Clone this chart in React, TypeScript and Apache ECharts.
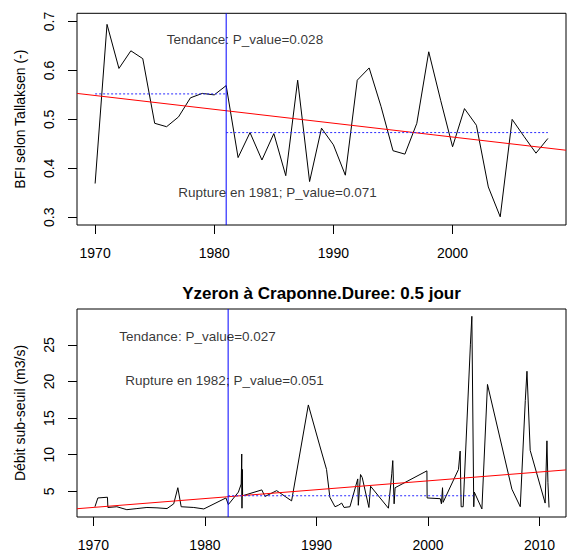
import React, { useEffect, useRef } from "react";
import * as echarts from "echarts";

// ---------- Top panel data (BFI selon Tallaksen) ----------
const topYears = [
  1970, 1971, 1972, 1973, 1974, 1975, 1976, 1977, 1978, 1979, 1980, 1981, 1982,
  1983, 1984, 1985, 1986, 1987, 1988, 1989, 1990, 1991, 1992, 1993, 1994, 1995,
  1996, 1997, 1998, 1999, 2000, 2001, 2002, 2003, 2004, 2005, 2006, 2007, 2008,
];
const topBfi = [
  0.369, 0.694, 0.604, 0.64, 0.624, 0.492, 0.485, 0.505, 0.544, 0.553, 0.55,
  0.569, 0.422, 0.473, 0.417, 0.471, 0.385, 0.58, 0.373, 0.482, 0.448, 0.386,
  0.58, 0.605, 0.526, 0.436, 0.429, 0.492, 0.638, 0.539, 0.444, 0.522, 0.488,
  0.362, 0.301, 0.5, 0.465, 0.431, 0.461,
];
const topTrendYears = [1968.48, 2009.52];
const topTrendValues = [0.553, 0.437];
const topRuptureYear = 1981;
const topMeanBeforeYears = [1970, 1981];
const topMeanBeforeValue = 0.552;
const topMeanAfterYears = [1981, 2008];
const topMeanAfterValue = 0.473;
const topXRange = [1968.48, 2009.52];
const topYRange = [0.2843, 0.7166];
const topXTicks = [1970, 1980, 1990, 2000];
const topYTicks = [0.3, 0.4, 0.5, 0.6, 0.7];
const topTexts = ["Tendance: P_value=0.028", "Rupture en 1981; P_value=0.071"];
const topTextX = [1982.57, 1985.3];
const topTextY = [0.664, 0.35];

// ---------- Bottom panel data (Débit sub-seuil) ----------
const botDates = [
  1970.14, 1970.4, 1971.26, 1971.3, 1972.1, 1973.0, 1973.9, 1974.8, 1975.7,
  1976.6, 1977.2, 1977.57, 1977.87, 1979.0, 1979.9, 1981.88, 1982.1, 1983.0,
  1983.25, 1983.3, 1983.32, 1983.35, 1983.38, 1985.1, 1985.38, 1986.43,
  1987.77, 1989.27, 1990.3, 1990.9, 1991.2, 1991.66, 1991.96, 1992.26, 1992.47,
  1993.0, 1993.7, 1993.75, 1993.95, 1994.1, 1994.7, 1994.85, 1996.45, 1996.75,
  1996.84, 1996.96, 1997.05, 1999.9, 1999.92, 2001.1, 2001.2, 2001.3, 2001.35,
  2002.73, 2002.88, 2002.97, 2003.15, 2003.8, 2003.93, 2004.1, 2004.15,
  2004.83, 2005.33, 2007.52, 2008.27, 2008.72, 2008.87, 2009.16, 2010.5,
  2010.66, 2010.75, 2010.85,
];
const botValues = [
  2.9, 4.1, 4.2, 2.8, 2.9, 2.5, 2.65, 2.8, 2.75, 2.65, 3.3, 5.5, 2.9, 2.8, 2.6,
  4.1, 3.2, 4.9, 6.0, 10.1, 2.7, 8.0, 4.4, 5.2, 4.3, 5.1, 3.7, 16.8, 11.2, 8.0,
  4.2, 2.9, 3.1, 3.4, 2.8, 2.9, 6.7, 3.1, 7.3, 6.9, 2.8, 5.7, 2.7, 7.4, 9.2,
  3.3, 5.5, 7.8, 4.1, 4.0, 3.3, 5.5, 3.5, 8.0, 10.5, 2.9, 2.9, 25.1, 28.9, 2.9,
  4.9, 2.6, 19.6, 5.3, 2.9, 17.4, 21.4, 10.6, 3.4, 11.9, 6.2, 2.8,
];
const botTrendYears = [1968.53, 2012.37];
const botTrendValues = [2.63, 7.93];
const botRuptureYear = 1982.08;
const botMeanAfterYears = [1982.08, 2004.07];
const botMeanAfterValue = 4.4;
const botXRange = [1968.53, 2012.37];
const botYRange = [1.5, 29.9];
const botXTicks = [1970, 1980, 1990, 2000, 2010];
const botYTicks = [5, 10, 15, 20, 25];
const botTexts = ["Tendance: P_value=0.027", "Rupture en 1982; P_value=0.051"];
const botTextX = [1979.34, 1981.76];
const botTextY = [26.1, 20.15];
const botTitle = "Yzeron à Craponne.Duree: 0.5 jour";
const topYName = "BFI selon Tallaksen (-)";
const botYName = "Débit sub-seuil (m3/s)";

const FONT = "'Liberation Sans', Arial, sans-serif";

function zip(xs: number[], ys: number[]) {
  return xs.map((x, i) => [x, ys[i]]);
}

function xAxisDef(gridIndex: number, range: number[], ticks: number[]) {
  return {
    type: "value",
    gridIndex,
    min: range[0],
    max: range[1],
    axisLine: { show: false },
    splitLine: { show: false },
    axisTick: {
      show: true,
      inside: false,
      length: 9,
      customValues: ticks,
      lineStyle: { color: "#000", width: 1 },
    },
    axisLabel: {
      show: true,
      customValues: ticks,
      margin: 21,
      fontSize: 14,
      fontFamily: FONT,
      color: "#000",
      formatter: (v: number) => String(v),
    },
  };
}

function yAxisDef(
  gridIndex: number,
  range: number[],
  ticks: number[],
  name: string
) {
  return {
    type: "value",
    gridIndex,
    min: range[0],
    max: range[1],
    name,
    nameLocation: "middle",
    nameGap: 50,
    nameTextStyle: { fontSize: 14, fontFamily: FONT, color: "#000" },
    axisLine: { show: false },
    splitLine: { show: false },
    axisTick: {
      show: true,
      inside: false,
      length: 9,
      customValues: ticks,
      lineStyle: { color: "#000", width: 1 },
    },
    axisLabel: {
      show: true,
      customValues: ticks,
      rotate: 90,
      margin: 21,
      fontSize: 14,
      fontFamily: FONT,
      color: "#000",
      formatter: (v: number) => String(v),
    },
  };
}

function lineSeries(
  idx: number,
  data: number[][],
  color: string,
  type: any = "solid",
  z = 2
) {
  return {
    type: "line",
    xAxisIndex: idx,
    yAxisIndex: idx,
    data,
    showSymbol: false,
    symbol: "none",
    silent: true,
    clip: true,
    z,
    lineStyle: { color, width: 1, type },
  };
}

function textSeries(idx: number, xs: number[], ys: number[], texts: string[]) {
  return {
    type: "scatter",
    xAxisIndex: idx,
    yAxisIndex: idx,
    symbolSize: 1,
    silent: true,
    z: 10,
    itemStyle: { color: "transparent" },
    data: xs.map((x, i) => ({
      value: [x, ys[i]],
      label: { formatter: texts[i] },
    })),
    label: {
      show: true,
      position: "inside",
      color: "#000",
      fontSize: 13.5,
      fontFamily: FONT,
    },
  };
}

export default function App() {
  const ref = useRef<HTMLDivElement>(null);
  useEffect(() => {
    if (!ref.current) return;
    const chart = echarts.init(ref.current, undefined, { renderer: "svg" });
    const option: any = {
      animation: false,
      backgroundColor: "#fff",
      grid: [
        {
          left: 77,
          top: 13.3,
          width: 489,
          height: 211.7,
          show: true,
          borderColor: "#000",
          borderWidth: 1,
          backgroundColor: "transparent",
        },
        {
          left: 77,
          top: 309,
          width: 489,
          height: 211.5,
          show: true,
          borderColor: "#000",
          borderWidth: 1,
          backgroundColor: "transparent",
        },
      ],
      xAxis: [xAxisDef(0, topXRange, topXTicks), xAxisDef(1, botXRange, botXTicks)],
      yAxis: [
        yAxisDef(0, topYRange, topYTicks, topYName),
        yAxisDef(1, botYRange, botYTicks, botYName),
      ],
      graphic: [
        {
          type: "text",
          x: 321.5,
          y: 293,
          silent: true,
          style: {
            text: botTitle,
            textAlign: "center",
            textVerticalAlign: "middle",
            fontSize: 17,
            fontWeight: "bold",
            fontFamily: FONT,
            fill: "#000",
          },
        },
      ],
      series: [
        // top panel
        lineSeries(0, zip(topYears, topBfi), "#000000", "solid", 2),
        lineSeries(0, zip(topTrendYears, topTrendValues), "#ff0000", "solid", 3),
        lineSeries(
          0,
          [
            [topRuptureYear, topYRange[0]],
            [topRuptureYear, topYRange[1]],
          ],
          "#0000ff",
          "solid",
          4
        ),
        lineSeries(
          0,
          topMeanBeforeYears.map((x) => [x, topMeanBeforeValue]),
          "#2a2aff",
          [2, 2],
          4
        ),
        lineSeries(
          0,
          topMeanAfterYears.map((x) => [x, topMeanAfterValue]),
          "#2a2aff",
          [2, 2],
          4
        ),
        textSeries(0, topTextX, topTextY, topTexts),
        // bottom panel
        lineSeries(1, zip(botDates, botValues), "#000000", "solid", 2),
        lineSeries(1, zip(botTrendYears, botTrendValues), "#ff0000", "solid", 3),
        lineSeries(
          1,
          [
            [botRuptureYear, botYRange[0]],
            [botRuptureYear, botYRange[1]],
          ],
          "#0000ff",
          "solid",
          4
        ),
        lineSeries(
          1,
          botMeanAfterYears.map((x) => [x, botMeanAfterValue]),
          "#2a2aff",
          [2, 2],
          4
        ),
        textSeries(1, botTextX, botTextY, botTexts),
      ],
    };
    chart.setOption(option);
    return () => chart.dispose();
  }, []);
  return (
    <div
      ref={ref}
      style={{ position: "absolute", left: 0, top: 0, width: 567, height: 552 }}
    />
  );
}
